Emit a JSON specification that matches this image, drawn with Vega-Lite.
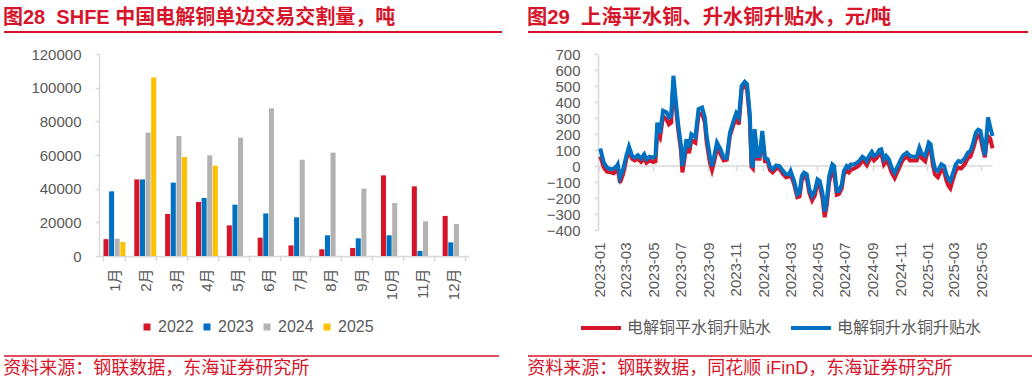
{
"$schema": "https://vega.github.io/schema/vega-lite/v6.json",
"background": "white",
"padding": {"left": -3, "top": 7, "right": 0, "bottom": 0},
"spacing": 14,
"config": {
  "view": {"stroke": null},
  "font": "Liberation Sans, Noto Sans CJK SC",
  "axis": {"labelColor": "#595959", "labelFontSize": 15, "labelFont": "Liberation Sans, Noto Sans CJK SC", "domainColor": "#d9d9d9", "tickColor": "#d9d9d9", "domainWidth": 1.5, "tickWidth": 1.5, "grid": false},
  "legend": {"labelFont": "Liberation Sans, Noto Sans CJK SC", "labelColor": "#595959"},
  "title": {"font": "Liberation Sans, Noto Sans CJK SC", "color": "#d7152a"}
},
"resolve": {"scale": {"color": "independent"}, "legend": {"color": "independent"}},
"vconcat": [
 {
  "spacing": 24,
  "hconcat": [
   {
    "width": 498, "height": 2,
    "data": {"values": [{}]},
    "title": {"text": "图28\u00a0\u00a0SHFE 中国电解铜单边交易交割量，吨", "anchor": "start", "fontSize": 20, "fontWeight": "bold", "offset": 3},
    "mark": {"type": "rule", "color": "#d7152a", "strokeWidth": 2},
    "encoding": {"y": {"datum": 0.5, "type": "quantitative", "scale": {"domain": [0, 1]}, "axis": null}}
   },
   {
    "width": 500, "height": 2,
    "data": {"values": [{}]},
    "title": {"text": "图29\u00a0\u00a0上海平水铜、升水铜升贴水，元/吨", "anchor": "start", "fontSize": 20.3, "fontWeight": "bold", "offset": 3},
    "mark": {"type": "rule", "color": "#d7152a", "strokeWidth": 2},
    "encoding": {"y": {"datum": 0.5, "type": "quantitative", "scale": {"domain": [0, 1]}, "axis": null}}
   }
  ]
 },
 {
  "spacing": 19,
  "resolve": {"scale": {"color": "independent"}, "legend": {"color": "independent"}},
  "vconcat": [
   {
    "spacing": 56,
    "resolve": {"scale": {"color": "independent"}, "legend": {"color": "independent"}},
    "hconcat": [
     {
      "width": 465, "height": 202,
      "data": {"values": [
        {"m": "1月", "y": "2022", "v": 10000}, {"m": "1月", "y": "2023", "v": 38400}, {"m": "1月", "y": "2024", "v": 10300}, {"m": "1月", "y": "2025", "v": 8300},
        {"m": "2月", "y": "2022", "v": 45500}, {"m": "2月", "y": "2023", "v": 45500}, {"m": "2月", "y": "2024", "v": 73300}, {"m": "2月", "y": "2025", "v": 106100},
        {"m": "3月", "y": "2022", "v": 25000}, {"m": "3月", "y": "2023", "v": 43600}, {"m": "3月", "y": "2024", "v": 71300}, {"m": "3月", "y": "2025", "v": 58800},
        {"m": "4月", "y": "2022", "v": 32100}, {"m": "4月", "y": "2023", "v": 34500}, {"m": "4月", "y": "2024", "v": 59800}, {"m": "4月", "y": "2025", "v": 53700},
        {"m": "5月", "y": "2022", "v": 18200}, {"m": "5月", "y": "2023", "v": 30500}, {"m": "5月", "y": "2024", "v": 70300},
        {"m": "6月", "y": "2022", "v": 10900}, {"m": "6月", "y": "2023", "v": 25300}, {"m": "6月", "y": "2024", "v": 87700},
        {"m": "7月", "y": "2022", "v": 6300}, {"m": "7月", "y": "2023", "v": 23000}, {"m": "7月", "y": "2024", "v": 57200},
        {"m": "8月", "y": "2022", "v": 4000}, {"m": "8月", "y": "2023", "v": 12300}, {"m": "8月", "y": "2024", "v": 61400},
        {"m": "9月", "y": "2022", "v": 4800}, {"m": "9月", "y": "2023", "v": 10500}, {"m": "9月", "y": "2024", "v": 40000},
        {"m": "10月", "y": "2022", "v": 47900}, {"m": "10月", "y": "2023", "v": 12300}, {"m": "10月", "y": "2024", "v": 31500},
        {"m": "11月", "y": "2022", "v": 41400}, {"m": "11月", "y": "2023", "v": 3000}, {"m": "11月", "y": "2024", "v": 20600},
        {"m": "12月", "y": "2022", "v": 23800}, {"m": "12月", "y": "2023", "v": 8100}, {"m": "12月", "y": "2024", "v": 19000}
      ]},
      "mark": {"type": "bar"},
      "encoding": {
        "x": {"field": "m", "type": "nominal", "sort": ["1月","2月","3月","4月","5月","6月","7月","8月","9月","10月","11月","12月"],
              "scale": {"range": [95, 465], "paddingInner": 0.29, "paddingOuter": 0.145},
              "axis": {"title": null, "labelAngle": 270, "tickBand": "extent", "tickSize": 5, "labelPadding": 7, "labelFontSize": 15}},
        "xOffset": {"field": "y", "type": "nominal", "scale": {"domain": ["2022","2023","2024","2025"], "paddingInner": 0.1}},
        "y": {"field": "v", "type": "quantitative", "scale": {"domain": [0, 120000]},
              "axis": {"title": null, "offset": -95, "values": [0,20000,40000,60000,80000,100000,120000], "format": "d", "tickSize": 4, "labelPadding": 14}},
        "color": {"field": "y", "type": "nominal", "scale": {"domain": ["2022","2023","2024","2025"], "range": ["#d7152a","#0070c0","#b2b2b2","#ffc000"]},
              "legend": {"title": null, "orient": "none", "legendX": 135, "legendY": 265, "direction": "horizontal", "symbolType": "square", "symbolSize": 49, "symbolStrokeWidth": 0, "labelFontSize": 16, "columnPadding": 5, "padding": 0, "labelOffset": 3}}
      }
     },
     {
      "width": 468, "height": 176,
      "data": {"values": [
        {"d":"2023-01-03","flat":60,"prem":110},{"d":"2023-01-11","flat":-10,"prem":21},{"d":"2023-01-18","flat":-35,"prem":-10},{"d":"2023-01-26","flat":-40,"prem":-21},
        {"d":"2023-02-02","flat":-45,"prem":-17},{"d":"2023-02-09","flat":-25,"prem":0},{"d":"2023-02-11","flat":-15,"prem":10},{"d":"2023-02-16","flat":-105,"prem":-73},{"d":"2023-02-23","flat":-50,"prem":-21},
        {"d":"2023-03-02","flat":40,"prem":63},{"d":"2023-03-08","flat":95,"prem":121},{"d":"2023-03-15","flat":45,"prem":63},{"d":"2023-03-21","flat":35,"prem":52},{"d":"2023-03-28","flat":45,"prem":67},
        {"d":"2023-04-04","flat":25,"prem":46},{"d":"2023-04-11","flat":45,"prem":73},{"d":"2023-04-16","flat":20,"prem":42},{"d":"2023-04-23","flat":35,"prem":58},
        {"d":"2023-05-01","flat":25,"prem":52},{"d":"2023-05-06","flat":30,"prem":63},{"d":"2023-05-10","flat":200,"prem":271},{"d":"2023-05-16","flat":175,"prem":205},{"d":"2023-05-23","flat":310,"prem":345},{"d":"2023-05-31","flat":290,"prem":334},
        {"d":"2023-06-05","flat":260,"prem":303},{"d":"2023-06-10","flat":270,"prem":313},{"d":"2023-06-15","flat":530,"prem":564},{"d":"2023-06-20","flat":380,"prem":418},{"d":"2023-06-26","flat":220,"prem":251},
        {"d":"2023-07-02","flat":90,"prem":125},{"d":"2023-07-05","flat":-40,"prem":0},{"d":"2023-07-09","flat":30,"prem":63},{"d":"2023-07-14","flat":130,"prem":167},{"d":"2023-07-20","flat":80,"prem":115},{"d":"2023-07-25","flat":160,"prem":198},
        {"d":"2023-08-03","flat":145,"prem":180},{"d":"2023-08-10","flat":320,"prem":355},{"d":"2023-08-18","flat":330,"prem":365},{"d":"2023-08-24","flat":270,"prem":303},{"d":"2023-08-28","flat":150,"prem":188},
        {"d":"2023-09-04","flat":25,"prem":63},{"d":"2023-09-09","flat":-25,"prem":0},{"d":"2023-09-14","flat":30,"prem":63},{"d":"2023-09-20","flat":110,"prem":146},{"d":"2023-09-28","flat":75,"prem":104},
        {"d":"2023-10-05","flat":35,"prem":52},{"d":"2023-10-12","flat":40,"prem":52},{"d":"2023-10-19","flat":190,"prem":209},{"d":"2023-10-27","flat":260,"prem":282},
        {"d":"2023-11-02","flat":300,"prem":330},{"d":"2023-11-08","flat":260,"prem":303},{"d":"2023-11-14","flat":480,"prem":501},{"d":"2023-11-21","flat":500,"prem":526},{"d":"2023-11-26","flat":480,"prem":512},
        {"d":"2023-12-02","flat":300,"prem":334},{"d":"2023-12-06","flat":-5,"prem":21},{"d":"2023-12-09","flat":-15,"prem":-10},{"d":"2023-12-13","flat":200,"prem":230},{"d":"2023-12-19","flat":45,"prem":63},{"d":"2023-12-24","flat":45,"prem":63},{"d":"2023-12-30","flat":180,"prem":219},
        {"d":"2024-01-05","flat":30,"prem":52},{"d":"2024-01-11","flat":30,"prem":42},{"d":"2024-01-16","flat":-25,"prem":-4},{"d":"2024-01-22","flat":-40,"prem":-21},{"d":"2024-01-30","flat":-15,"prem":4},
        {"d":"2024-02-06","flat":-15,"prem":0},{"d":"2024-02-14","flat":-50,"prem":-31},{"d":"2024-02-21","flat":-70,"prem":-52},{"d":"2024-02-27","flat":-65,"prem":-52},
        {"d":"2024-03-02","flat":-50,"prem":-31},{"d":"2024-03-10","flat":-115,"prem":-94},{"d":"2024-03-17","flat":-195,"prem":-177},{"d":"2024-03-22","flat":-190,"prem":-167},{"d":"2024-03-27","flat":-90,"prem":-63},
        {"d":"2024-04-01","flat":-65,"prem":-42},{"d":"2024-04-07","flat":-75,"prem":-52},{"d":"2024-04-13","flat":-170,"prem":-146},{"d":"2024-04-19","flat":-215,"prem":-188},{"d":"2024-04-25","flat":-185,"prem":-157},
        {"d":"2024-05-01","flat":-110,"prem":-84},{"d":"2024-05-06","flat":-120,"prem":-94},{"d":"2024-05-12","flat":-200,"prem":-167},{"d":"2024-05-17","flat":-320,"prem":-285},{"d":"2024-05-22","flat":-240,"prem":-209},{"d":"2024-05-27","flat":-100,"prem":-63},
        {"d":"2024-06-03","flat":-25,"prem":10},{"d":"2024-06-07","flat":-40,"prem":0},{"d":"2024-06-13","flat":-180,"prem":-157},{"d":"2024-06-18","flat":-175,"prem":-157},{"d":"2024-06-24","flat":-140,"prem":-115},{"d":"2024-06-29","flat":-50,"prem":-31},
        {"d":"2024-07-05","flat":-30,"prem":0},{"d":"2024-07-10","flat":-40,"prem":-10},{"d":"2024-07-14","flat":-25,"prem":10},{"d":"2024-07-22","flat":-15,"prem":10},{"d":"2024-07-28","flat":-5,"prem":21},
        {"d":"2024-08-02","flat":5,"prem":31},{"d":"2024-08-09","flat":35,"prem":58},{"d":"2024-08-15","flat":20,"prem":46},{"d":"2024-08-19","flat":5,"prem":31},{"d":"2024-08-24","flat":35,"prem":63},{"d":"2024-08-30","flat":60,"prem":88},
        {"d":"2024-09-04","flat":35,"prem":63},{"d":"2024-09-10","flat":50,"prem":73},{"d":"2024-09-16","flat":75,"prem":100},{"d":"2024-09-20","flat":80,"prem":104},{"d":"2024-09-26","flat":10,"prem":42},
        {"d":"2024-10-01","flat":30,"prem":63},{"d":"2024-10-07","flat":10,"prem":42},{"d":"2024-10-13","flat":-40,"prem":-10},{"d":"2024-10-20","flat":-75,"prem":-42},{"d":"2024-10-27","flat":-30,"prem":0},
        {"d":"2024-11-03","flat":15,"prem":42},{"d":"2024-11-08","flat":40,"prem":67},{"d":"2024-11-16","flat":60,"prem":84},{"d":"2024-11-23","flat":35,"prem":63},
        {"d":"2024-12-01","flat":35,"prem":58},{"d":"2024-12-08","flat":35,"prem":58},{"d":"2024-12-14","flat":90,"prem":115},{"d":"2024-12-19","flat":50,"prem":79},{"d":"2024-12-27","flat":30,"prem":63},
        {"d":"2025-01-04","flat":120,"prem":146},{"d":"2025-01-08","flat":110,"prem":136},{"d":"2025-01-13","flat":5,"prem":42},{"d":"2025-01-18","flat":-55,"prem":-21},{"d":"2025-01-24","flat":-70,"prem":-31},
        {"d":"2025-02-01","flat":-25,"prem":10},{"d":"2025-02-07","flat":-30,"prem":0},{"d":"2025-02-12","flat":-90,"prem":-52},{"d":"2025-02-17","flat":-125,"prem":-84},{"d":"2025-02-21","flat":-140,"prem":-94},{"d":"2025-02-26","flat":-90,"prem":-52},
        {"d":"2025-03-05","flat":-30,"prem":10},{"d":"2025-03-11","flat":-10,"prem":31},{"d":"2025-03-17","flat":-15,"prem":25},{"d":"2025-03-25","flat":10,"prem":46},
        {"d":"2025-04-01","flat":50,"prem":84},{"d":"2025-04-07","flat":60,"prem":94},{"d":"2025-04-13","flat":110,"prem":146},{"d":"2025-04-19","flat":170,"prem":209},{"d":"2025-04-24","flat":190,"prem":226},{"d":"2025-04-29","flat":180,"prem":219},
        {"d":"2025-05-04","flat":110,"prem":146},{"d":"2025-05-09","flat":55,"prem":67},{"d":"2025-05-12","flat":130,"prem":167},{"d":"2025-05-16","flat":185,"prem":303},{"d":"2025-05-21","flat":170,"prem":240},{"d":"2025-05-26","flat":110,"prem":188}
      ]},
      "transform": [{"fold": ["flat", "prem"], "as": ["series", "val"]}],
      "layer": [
       {
        "mark": {"type": "line", "color": "#d9d9d9", "strokeWidth": 1.5},
        "encoding": {
          "x": {"field": "d", "type": "temporal",
                "scale": {"type": "utc", "range": [73, 468], "domain": [{"year": 2022, "month": 12, "date": 29, "utc": true}, {"year": 2025, "month": 5, "date": 27, "utc": true}]},
                "axis": {"orient": "bottom", "offset": -64, "labels": false, "domain": false, "ticks": true, "tickSize": 5, "title": null, "tickCount": {"interval": "month", "step": 2}}},
          "y": {"datum": 0, "type": "quantitative", "scale": {"domain": [-400, 700]},
                "axis": {"title": null, "offset": -73, "values": [-400,-300,-200,-100,0,100,200,300,400,500,600,700], "tickSize": 4, "labelPadding": 14}}
        }
       },
       {
        "mark": {"type": "line", "strokeWidth": 4},
        "encoding": {
          "x": {"field": "d", "type": "temporal",
                "scale": {"type": "utc", "range": [73, 468], "domain": [{"year": 2022, "month": 12, "date": 29, "utc": true}, {"year": 2025, "month": 5, "date": 27, "utc": true}]},
                "axis": {"orient": "bottom", "domain": false, "ticks": false, "labelAngle": 270, "format": "%Y-%m", "labelOverlap": false, "tickCount": {"interval": "month", "step": 2}, "labelPadding": 12, "title": null}},
          "y": {"field": "val", "type": "quantitative", "scale": {"domain": [-400, 700]},
                "axis": {"title": null, "offset": -73, "values": [-400,-300,-200,-100,0,100,200,300,400,500,600,700], "tickSize": 4, "labelPadding": 14}},
          "color": {"field": "series", "type": "nominal", "scale": {"domain": ["flat", "prem"], "range": ["#d7152a", "#0070c0"]},
                "legend": {"title": null, "orient": "none", "legendX": 54, "legendY": 252, "direction": "horizontal", "symbolType": "stroke", "symbolSize": 1600, "symbolStrokeWidth": 4, "labelFontSize": 16, "columnPadding": 11, "padding": 0, "labelOffset": 4, "labelLimit": 300,
                           "labelExpr": "datum.label == 'flat' ? '电解铜平水铜升贴水' : '电解铜升水铜升贴水'"}}
        }
       }
      ],
      "resolve": {"axis": {"x": "independent"}}
     }
    ]
   },
   {
    "spacing": 27,
    "hconcat": [
     {
      "width": 495, "height": 2,
      "data": {"values": [{}]},
      "title": {"text": "资料来源：钢联数据，东海证券研究所", "orient": "bottom", "anchor": "start", "fontSize": 18, "fontWeight": "normal", "offset": 3},
      "mark": {"type": "rule", "color": "#d7152a", "strokeWidth": 1.5},
      "encoding": {"y": {"datum": 0.5, "type": "quantitative", "scale": {"domain": [0, 1]}, "axis": null}}
     },
     {
      "width": 505, "height": 2,
      "data": {"values": [{}]},
      "title": {"text": "资料来源：钢联数据，同花顺 iFinD，东海证券研究所", "orient": "bottom", "anchor": "start", "fontSize": 18, "fontWeight": "normal", "offset": 3},
      "mark": {"type": "rule", "color": "#d7152a", "strokeWidth": 1.5},
      "encoding": {"y": {"datum": 0.5, "type": "quantitative", "scale": {"domain": [0, 1]}, "axis": null}}
     }
    ]
   }
  ]
 }
]
}
